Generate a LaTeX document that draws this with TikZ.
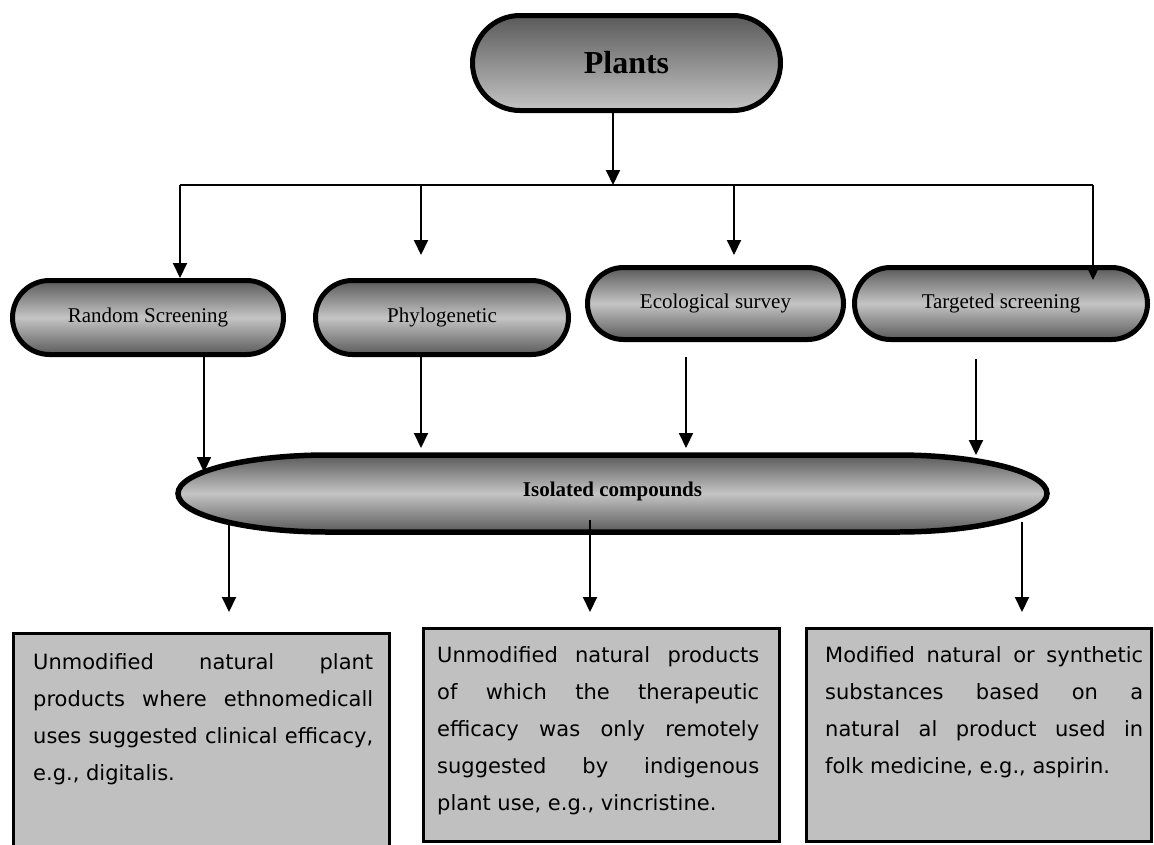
\documentclass[tikz,border=0pt]{standalone}
\usepackage{fontspec}
\setmainfont{Liberation Serif}
\newfontfamily\boxfont{DejaVu Sans}
\usetikzlibrary{arrows.meta}
\definecolor{dk}{HTML}{5A5A5A}
\definecolor{lt}{HTML}{C4C4C4}
\definecolor{silver}{HTML}{C0C0C0}
\newcommand{\boxsize}{\boxfont\fontsize{21}{37}\selectfont}
\tikzset{
  pill/.style={draw=black, line width=5pt, rounded corners=#1, top color=dk, bottom color=dk, middle color=lt,
    inner sep=0pt, font=\fontsize{21}{25}\selectfont},
  arr/.style={line width=2pt, -{Triangle[length=15pt,width=14pt]}},
  conn/.style={line width=2pt},
  gbox/.style={draw=black, line width=2.5pt, fill=silver, inner sep=0pt, anchor=north west},
  btext/.style={inner sep=0pt, anchor=north west, align=justify, font=\boxsize},
}
\hyphenpenalty=10000
\exhyphenpenalty=10000
\begin{document}
\begin{tikzpicture}[x=1pt,y=-1pt]
\clip (0,0) rectangle (1154,844);
\fill[white] (0,0) rectangle (1154,844);

% Plants
\node[draw=black, line width=5pt, rounded corners=47.5pt, top color=dk, bottom color=lt, inner sep=0pt,
  minimum width=308pt, minimum height=95pt, font=\bfseries\fontsize{32}{38}\selectfont] (plants) at (626.5,63) {Plants};

% second row
\node[pill=37pt, minimum width=271pt, minimum height=74pt] (rs) at (148,317.5) {Random Screening};
\node[pill=37pt, minimum width=253pt, minimum height=74pt] (ph) at (442,317.5) {Phylogenetic};
\node[pill=36pt, minimum width=256pt, minimum height=72pt] (ec) at (715.5,303.5) {Ecological survey};
\node[pill=36pt, minimum width=293pt, minimum height=72pt] (ts) at (1001,303.5) {Targeted screening};

% Isolated compounds
\path[draw=black, line width=5.5pt, top color=dk, bottom color=dk, middle color=lt]
  (328,455) -- (897,455)
  .. controls (979.8,455) and (1047,472.2) .. (1047,493.5)
  .. controls (1047,514.8) and (979.8,532) .. (897,532)
  -- (328,532)
  .. controls (245.2,532) and (178,514.8) .. (178,493.5)
  .. controls (178,472.2) and (245.2,455) .. cycle;
\node[font=\bfseries\fontsize{21}{25}\selectfont, inner sep=0pt] (iso) at (612.5,491) {Isolated compounds};

% bottom boxes
\node[gbox, minimum width=376pt, minimum height=240pt] (b1) at (12,632) {};
\node[gbox, minimum width=356pt, minimum height=213pt] (b2) at (422,627) {};
\node[gbox, minimum width=345pt, minimum height=213pt] (b3) at (805,627) {};

\node[btext, text width=340pt] (t1) at (33,653)
  {Unmodified natural plant\linebreak products where ethnomedicall\linebreak uses suggested clinical efficacy,\linebreak e.g., digitalis.};
\node[btext, text width=322pt] (t2) at (437,646)
  {Unmodified natural products\linebreak of which the therapeutic\linebreak efficacy was only remotely\linebreak suggested by indigenous\linebreak plant use, e.g., vincristine.};
\node[btext, text width=318pt] (t3) at (825,646)
  {Modified natural or synthetic\linebreak substances based on a\linebreak natural al product used in\linebreak folk medicine, e.g., aspirin.};

% coordinates
\coordinate (p0) at (613,113);
\coordinate (hb) at (613,185);
\coordinate (hl) at (180,185);
\coordinate (hr) at (1093,185);
\coordinate (h2) at (421,185);
\coordinate (h3) at (734,185);
\coordinate (e1) at (180,278);
\coordinate (e2) at (421,255);
\coordinate (e3) at (734,255);
\coordinate (e4) at (1093,280);
\coordinate (d1s) at (204,357);
\coordinate (d1e) at (204,472);
\coordinate (d2s) at (421,357);
\coordinate (d2e) at (421,448);
\coordinate (d3s) at (686,357);
\coordinate (d3e) at (686,448);
\coordinate (d4s) at (976,359);
\coordinate (d4e) at (976,455);
\coordinate (o1s) at (229,523);
\coordinate (o1e) at (229,612);
\coordinate (o2s) at (590,520);
\coordinate (o2e) at (590,612);
\coordinate (o3s) at (1022,522);
\coordinate (o3e) at (1022,612);

\draw[arr] (p0) -- (hb);
\draw[conn] (hl) -- (hr);
\draw[arr] (hl) -- (e1);
\draw[arr] (h2) -- (e2);
\draw[arr] (h3) -- (e3);
\draw[arr] (hr) -- (e4);
\draw[arr] (d1s) -- (d1e);
\draw[arr] (d2s) -- (d2e);
\draw[arr] (d3s) -- (d3e);
\draw[arr] (d4s) -- (d4e);
\draw[arr] (o1s) -- (o1e);
\draw[arr] (o2s) -- (o2e);
\draw[arr] (o3s) -- (o3e);
\end{tikzpicture}
\end{document}
